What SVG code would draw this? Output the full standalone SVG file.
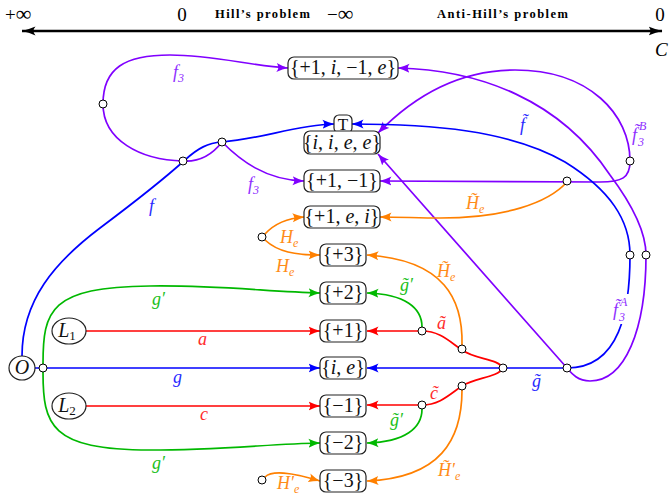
<svg xmlns="http://www.w3.org/2000/svg" width="671" height="497" viewBox="0 0 671 497">
<style>
.e{fill:none;stroke-width:1.7}
.eb{stroke:#0000ff}.er{stroke:#ff0000}.eg{stroke:#00b800}.eo{stroke:#ff8000}.ep{stroke:#8000ff}
.mb{marker-end:url(#ab)}.mr{marker-end:url(#ar)}.mg{marker-end:url(#ag)}.mo{marker-end:url(#ao)}.mp{marker-end:url(#ap)}
.box{fill:#fff;stroke:#222;stroke-width:1.2}
.ell{fill:#fff;stroke:#222;stroke-width:1.2}
.pt{fill:#fff;stroke:#000;stroke-width:1}
.nt{font-family:"Liberation Serif",serif;font-size:20px;text-anchor:middle;fill:#111}
.it{font-style:italic}
.lb{font-family:"Liberation Serif",serif;font-style:italic;font-size:18px}
.sm{font-size:12px;font-style:italic}
.cb{fill:#2a2aff}.cr{fill:#ff2a2a}.cg{fill:#20c020}.co{fill:#ff8c1a}.cp{fill:#8f30ff}
.top{font-family:"Liberation Serif",serif;font-size:19px;fill:#000}
.inf{font-size:22px}
.bold{font-family:"Liberation Serif",serif;font-size:12.5px;font-weight:bold;fill:#000}
</style>
<defs>
<marker id="ak" viewBox="0 0 14 10" refX="13.5" refY="5" markerWidth="14" markerHeight="10" markerUnits="userSpaceOnUse" orient="auto-start-reverse"><path d="M0,0.5 Q7,3.5 14,5 Q7,6.5 0,9.5 Q4,5 0,0.5 Z" fill="#000"/></marker>
<marker id="ab" viewBox="0 0 12 10" refX="11.5" refY="5" markerWidth="12" markerHeight="10" markerUnits="userSpaceOnUse" orient="auto-start-reverse"><path d="M0,0.5 Q6,3.5 12,5 Q6,6.5 0,9.5 Q3.5,5 0,0.5 Z" fill="#0000ff"/></marker>
<marker id="ar" viewBox="0 0 12 10" refX="11.5" refY="5" markerWidth="12" markerHeight="10" markerUnits="userSpaceOnUse" orient="auto-start-reverse"><path d="M0,0.5 Q6,3.5 12,5 Q6,6.5 0,9.5 Q3.5,5 0,0.5 Z" fill="#ff0000"/></marker>
<marker id="ag" viewBox="0 0 12 10" refX="11.5" refY="5" markerWidth="12" markerHeight="10" markerUnits="userSpaceOnUse" orient="auto-start-reverse"><path d="M0,0.5 Q6,3.5 12,5 Q6,6.5 0,9.5 Q3.5,5 0,0.5 Z" fill="#00b800"/></marker>
<marker id="ao" viewBox="0 0 12 10" refX="11.5" refY="5" markerWidth="12" markerHeight="10" markerUnits="userSpaceOnUse" orient="auto-start-reverse"><path d="M0,0.5 Q6,3.5 12,5 Q6,6.5 0,9.5 Q3.5,5 0,0.5 Z" fill="#ff8000"/></marker>
<marker id="ap" viewBox="0 0 12 10" refX="11.5" refY="5" markerWidth="12" markerHeight="10" markerUnits="userSpaceOnUse" orient="auto-start-reverse"><path d="M0,0.5 Q6,3.5 12,5 Q6,6.5 0,9.5 Q3.5,5 0,0.5 Z" fill="#8000ff"/></marker>
</defs>

<g id="axis">
<line x1="22" y1="31" x2="662" y2="31" stroke="#000" stroke-width="2.4" marker-start="url(#ak)" marker-end="url(#ak)"/>
<text class="top" x="5" y="20.5">+<tspan class="inf">∞</tspan></text>
<text class="top" x="182" y="21" text-anchor="middle">0</text>
<text class="bold" x="215" y="18" textLength="95">Hill’s problem</text>
<text class="top" x="327" y="20.5">−<tspan class="inf">∞</tspan></text>
<text class="bold" x="437" y="18" textLength="131">Anti-Hill’s problem</text>
<text class="top" x="660" y="21" text-anchor="middle">0</text>
<text class="top it" x="655" y="56">C</text>
</g>

<g id="connectors">
<path class="e er mr" d="M86,331 H320"/>
<path class="e er mr" d="M86,406 H320"/>
<path class="e eb mb" d="M35,368 H320"/>
<path class="e eb mb" d="M22,356 C22,300 55,262 100,228 C140,198 165,178 185,160 C198,148 208,143 222,142 C262,139 295,125 334,124"/>
<path class="e ep mp" d="M222,142 C212,155 198,162 183,161 C140,160 103,140 103,104 C103,68 125,55 170,55 C215,55 250,66 288,68"/>
<path class="e ep mp" d="M222,142 C240,160 265,180 304,181"/>
<path class="e ep" marker-start="url(#ap)" marker-end="url(#ap)" d="M380,181 L600,182 C622,182 630,178 630,161 C630,115 590,70 515,70 C460,70 415,95 378,133"/>
<path class="e eb" marker-start="url(#ab)" marker-end="url(#ab)" d="M352,124 C430,124 510,130 565,162 C610,190 630,220 630,255 C630,310 620,368 567,368 H367"/>
<path class="e ep" marker-start="url(#ap)" marker-end="url(#ap)" d="M398,68 C480,70 560,100 610,175 C640,215 646,240 646,255 C646,330 625,381 590,381 C578,381 572,374 567,368 L378,154"/>
<path class="e eo mo" d="M567,182 C548,203 505,218 440,218 C420,218 400,217 380,217"/>
<path class="e eo mo" d="M265,234 C275,223 290,218 304,217"/>
<path class="e eo mo" d="M265,240 C278,252 295,255 320,255"/>
<path class="e eo mo" d="M265,477 C272,470 290,472 320,481"/>
<path class="e eo mo" d="M462,345 C463,300 445,260 367,255"/>
<path class="e eo mo" d="M462,390 C462,440 440,478 367,481"/>
<path class="e er mr" d="M503,368 C497,358 476,360 462,350 C450,342 440,331 422,331 L367,331"/>
<path class="e er mr" d="M503,368 C497,378 476,377 462,386 C450,394 440,405 422,405 L367,405"/>
<path class="e eg mg" d="M422,327 C422,308 405,294 367,293"/>
<path class="e eg mg" d="M422,409 C422,428 405,442 367,443"/>
<path class="e eg mg" d="M43,364 C43,310 50,287 150,286 C220,285 270,292 320,293"/>
<path class="e eg mg" d="M43,372 C43,425 50,450 150,450 C220,450 270,444 320,443"/>
</g>

<g id="labels">
<text class="lb cb" x="149" y="212">f</text>
<text class="lb cp" x="173" y="78">f<tspan class="sm" dy="4">3</tspan></text>
<text class="lb cp" x="248" y="190">f<tspan class="sm" dy="4">3</tspan></text>
<text class="lb cb" x="520" y="131">f̃</text>
<text class="lb cb" x="173" y="383">g</text>
<text class="lb cb" x="532" y="387">g̃</text>
<text class="lb cr" x="198" y="345">a</text>
<text class="lb cr" x="200" y="420">c</text>
<text class="lb cr" x="437" y="329">ã</text>
<text class="lb cr" x="430" y="399">c̃</text>
<text class="lb cg" x="152" y="305">g′</text>
<text class="lb cg" x="152" y="469">g′</text>
<text class="lb cg" x="400" y="291">g̃′</text>
<text class="lb cg" x="390" y="426">g̃′</text>
<text class="lb co" x="280" y="243">H<tspan class="sm" dy="4">e</tspan></text>
<text class="lb co" x="276" y="272">H<tspan class="sm" dy="4">e</tspan></text>
<text class="lb co" x="277" y="489">H′<tspan class="sm" dy="4">e</tspan></text>
<text class="lb co" x="466" y="209">H̃<tspan class="sm" dy="4">e</tspan></text>
<text class="lb co" x="437" y="277">H̃<tspan class="sm" dy="4">e</tspan></text>
<text class="lb co" x="438" y="476">H̃′<tspan class="sm" dy="4">e</tspan></text>
<text class="lb cp" x="632" y="141">f̃<tspan class="sm" dx="1" dy="5">3</tspan><tspan class="sm" dx="-5" dy="-16">B</tspan></text>
<rect x="611" y="294" width="24" height="30" fill="#fff"/>
<text class="lb cp" x="613" y="316">f̃<tspan class="sm" dx="1" dy="5">3</tspan><tspan class="sm" dx="-5" dy="-15">A</tspan></text>
</g>

<g id="n_p1i_m1e"><rect class="box" x="288" y="57" width="110" height="22" rx="6"/><text class="nt" x="343" y="74">{+1, <tspan class="it">i</tspan>, −1, <tspan class="it">e</tspan>}</text></g>
<g id="n_T"><rect class="box" x="334" y="115" width="18" height="18" rx="5"/><text class="nt" x="343" y="130" style="font-size:17px">T</text></g>
<g id="n_iiee"><rect class="box" x="304" y="131" width="76" height="23" rx="6"/><text class="nt" x="342" y="149">{<tspan class="it">i</tspan>, <tspan class="it">i</tspan>, <tspan class="it">e</tspan>, <tspan class="it">e</tspan>}</text></g>
<g id="n_p1m1"><rect class="box" x="304" y="170" width="76" height="22" rx="6"/><text class="nt" x="342" y="187">{+1, −1}</text></g>
<g id="n_p1ei"><rect class="box" x="304" y="206" width="76" height="22" rx="6"/><text class="nt" x="342" y="223">{+1, <tspan class="it">e</tspan>, <tspan class="it">i</tspan>}</text></g>
<g id="n_p3"><rect class="box" x="320" y="244" width="46" height="22" rx="6"/><text class="nt" x="343" y="261">{+3}</text></g>
<g id="n_p2"><rect class="box" x="320" y="282" width="46" height="22" rx="6"/><text class="nt" x="343" y="299">{+2}</text></g>
<g id="n_p1"><rect class="box" x="320" y="320" width="46" height="22" rx="6"/><text class="nt" x="343" y="337">{+1}</text></g>
<g id="n_ie"><rect class="box" x="320" y="357" width="46" height="22" rx="6"/><text class="nt" x="343" y="374">{<tspan class="it">i</tspan>, <tspan class="it">e</tspan>}</text></g>
<g id="n_m1"><rect class="box" x="320" y="395" width="46" height="22" rx="6"/><text class="nt" x="343" y="412">{−1}</text></g>
<g id="n_m2"><rect class="box" x="320" y="432" width="46" height="22" rx="6"/><text class="nt" x="343" y="449">{−2}</text></g>
<g id="n_m3"><rect class="box" x="320" y="470" width="46" height="22" rx="6"/><text class="nt" x="343" y="487">{−3}</text></g>
<g id="n_O"><ellipse class="ell" cx="22" cy="368" rx="13" ry="12"/><text class="nt it" x="22" y="374">O</text></g>
<g id="n_L1"><ellipse class="ell" cx="69" cy="331" rx="17" ry="13"/><text class="nt it" x="67" y="337">L<tspan style="font-style:normal;font-size:13px" dy="3">1</tspan></text></g>
<g id="n_L2"><ellipse class="ell" cx="69" cy="406" rx="17" ry="13"/><text class="nt it" x="67" y="412">L<tspan style="font-style:normal;font-size:13px" dy="3">2</tspan></text></g>

<g id="points">
<circle class="pt" cx="103" cy="104" r="4"/>
<circle class="pt" cx="183" cy="161" r="4"/>
<circle class="pt" cx="222" cy="142" r="4"/>
<circle class="pt" cx="262" cy="237" r="4"/>
<circle class="pt" cx="262" cy="480" r="4"/>
<circle class="pt" cx="43" cy="368" r="4"/>
<circle class="pt" cx="422" cy="331" r="4"/>
<circle class="pt" cx="462" cy="349" r="4"/>
<circle class="pt" cx="503" cy="368" r="4"/>
<circle class="pt" cx="462" cy="386" r="4"/>
<circle class="pt" cx="422" cy="405" r="4"/>
<circle class="pt" cx="567" cy="368" r="4"/>
<circle class="pt" cx="567" cy="181" r="4"/>
<circle class="pt" cx="630" cy="161" r="4"/>
<circle class="pt" cx="630" cy="255" r="4"/>
<circle class="pt" cx="646" cy="255" r="4"/>
</g>
</svg>
